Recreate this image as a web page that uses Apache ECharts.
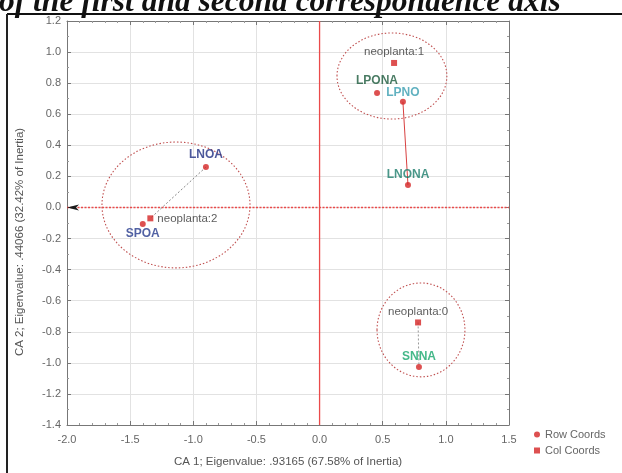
<!DOCTYPE html>
<html><head><meta charset="utf-8">
<script src="https://cdn.jsdelivr.net/npm/echarts@6/dist/echarts.min.js"></script>
<style>html,body{margin:0;padding:0;background:#fff}#c{width:622px;height:473px}</style>
</head><body><div id="c"></div>
<script>
// ---- data ----
const rowNames = ['LNOA', 'SPOA', 'LPONA', 'LPNO', 'LNONA', 'SNNA'];
const rowX = [-0.90, -1.40, 0.455, 0.66, 0.70, 0.787];
const rowY = [0.26, -0.107, 0.737, 0.68, 0.145, -1.026];
const colNames = ['neoplanta:0', 'neoplanta:1', 'neoplanta:2'];
const colX = [0.78, 0.59, -1.34];
const colY = [-0.74, 0.93, -0.07];
// grouping ellipses (centre and radii in data units)
const circleCX = [0.573, -1.137, 0.803];
const circleCY = [0.846, 0.016, -0.788];
const circleRX = [0.435, 0.586, 0.348];
const circleRY = [0.277, 0.405, 0.302];
// connectors between points
const links = [['LNOA', 'neoplanta:2'], ['LPNO', 'LNONA'], ['neoplanta:0', 'SNNA']];
const xTicks = [-2.0, -1.5, -1.0, -0.5, 0.0, 0.5, 1.0, 1.5];
const yTicks = [-1.4, -1.2, -1.0, -0.8, -0.6, -0.4, -0.2, 0.0, 0.2, 0.4, 0.6, 0.8, 1.0, 1.2];
const xTitle = 'CA 1; Eigenvalue: .93165 (67.58% of Inertia)';
const yTitle = 'CA 2; Eigenvalue: .44066 (32.42% of Inertia)';
const legendNames = ['Row Coords', 'Col Coords'];
const topCaption = 'of the first and second correspondence axis';

// ---- styles ----
const labelStyles = {
  'LNOA':   {color: '#1f2e82', position: 'top', distance: 3, bold: true},
  'SPOA':   {color: '#26398c', position: 'bottom', distance: 1, bold: true},
  'LPONA':  {color: '#1c5a3c', position: 'top', distance: 3, bold: true, offset: [-2, 0]},
  'LPNO':   {color: '#3a9db0', position: 'top', distance: 0, bold: true},
  'LNONA':  {color: '#1d7d6c', position: 'top', distance: 1, bold: true},
  'SNNA':   {color: '#17a66b', position: 'top', distance: 1, bold: true},
  'neoplanta:0': {color: '#333', position: 'top', distance: 2},
  'neoplanta:1': {color: '#333', position: 'top', distance: 2},
  'neoplanta:2': {color: '#333', position: 'right', distance: 4}
};
const linkStyles = [
  {color: '#888', dash: [2, 2]},
  {color: '#d84040', dash: null},
  {color: '#999', dash: [2, 2]}
];
const RED = '#d42424';
const ZERO_RED = '#ea4a4a';

function step(a) { return Math.round((a[1] - a[0]) * 1000) / 1000; }
function lbl(name) {
  const s = labelStyles[name];
  return {
    show: true, position: s.position, distance: s.distance, offset: s.offset || [0, 0],
    formatter: name, color: s.color, fontSize: s.bold ? 12 : 11.5,
    fontWeight: s.bold ? 'bold' : 'normal', fontFamily: 'Liberation Sans, Arial, sans-serif'
  };
}
const allPts = {};
rowNames.forEach((n, i) => allPts[n] = [rowX[i], rowY[i]]);
colNames.forEach((n, i) => allPts[n] = [colX[i], colY[i]]);

const xMin = xTicks[0], xMax = xTicks[xTicks.length - 1];
const yMin = yTicks[0], yMax = yTicks[yTicks.length - 1];

const axisFont = {fontSize: 11, color: '#666', fontFamily: 'Liberation Sans, Arial, sans-serif'};
function xAxisDef(pos, main) {
  return {
    type: 'value', position: pos, min: xMin, max: xMax, interval: step(xTicks),
    axisLine: {show: true, onZero: false, lineStyle: {color: '#777', width: 1}},
    axisTick: {show: true, inside: true, length: 4, lineStyle: {color: '#777'}},
    minorTick: {show: true, splitNumber: 5, length: 2, lineStyle: {color: '#999'}},
    splitLine: {show: main, lineStyle: {color: '#e2e2e2', width: 1}},
    axisLabel: main ? Object.assign({show: true, margin: 9, formatter: v => v.toFixed(1)}, axisFont) : {show: false},
    name: main ? xTitle : '', nameLocation: 'middle', nameGap: 31,
    nameTextStyle: {fontSize: 11.5, color: '#555', fontFamily: 'Liberation Sans, Arial, sans-serif'}
  };
}
function yAxisDef(pos, main) {
  return {
    type: 'value', position: pos, min: yMin, max: yMax, interval: step(yTicks),
    axisLine: {show: true, onZero: false, lineStyle: {color: '#777', width: 1}},
    axisTick: {show: true, inside: true, length: 4, lineStyle: {color: '#777'}},
    minorTick: {show: true, splitNumber: 2, length: 2, lineStyle: {color: '#999'}},
    splitLine: {show: main, lineStyle: {color: '#e2e2e2', width: 1}},
    axisLabel: main ? Object.assign({show: true, margin: 6, formatter: v => v.toFixed(1)}, axisFont) : {show: false},
    name: main ? yTitle : '', nameLocation: 'middle', nameGap: 41,
    nameTextStyle: {fontSize: 11.5, color: '#555', padding: [0, 38, 0, 0], fontFamily: 'Liberation Sans, Arial, sans-serif'}
  };
}

function segSeries(name, p1, p2, color, dash, z, width) {
  return {
    type: 'custom', name: name, silent: true, z: z,
    data: [[p1[0], p1[1], p2[0], p2[1]]],
    encode: {x: [0, 2], y: [1, 3]},
    renderItem: function (params, api) {
      const a = api.coord([api.value(0), api.value(1)]);
      const b = api.coord([api.value(2), api.value(3)]);
      return {
        type: 'line', shape: {x1: a[0], y1: a[1], x2: b[0], y2: b[1]},
        style: {stroke: color, lineWidth: width || 1, lineDash: dash || null, fill: null}
      };
    }
  };
}

const series = [];
// zero lines
series.push(segSeries('zeroH', [xMin, 0], [xMax, 0], ZERO_RED, [2, 1.5], 10, 1.4));
series.push(segSeries('zeroV', [0, yMin], [0, yMax], ZERO_RED, null, 10, 1.3));
// arrow head at the left end of the horizontal zero line
series.push({
  type: 'custom', name: 'arrow', silent: true, z: 11,
  data: [[xMin, 0]], encode: {x: 0, y: 1},
  renderItem: function (params, api) {
    const p = api.coord([api.value(0), api.value(1)]);
    return {
      type: 'polygon',
      shape: {points: [[p[0], p[1]], [p[0] + 12, p[1] - 3], [p[0] + 9, p[1]], [p[0] + 12, p[1] + 3]]},
      style: {fill: '#1a1a1a'}
    };
  }
});
// ellipses
series.push({
  type: 'custom', name: 'groups', silent: true, z: 3,
  data: circleCX.map((c, i) => [c, circleCY[i], circleRX[i], circleRY[i]]),
  encode: {x: 0, y: 1},
  renderItem: function (params, api) {
    const c = api.coord([api.value(0), api.value(1)]);
    const s = api.size([api.value(2), api.value(3)]);
    return {
      type: 'ellipse', shape: {cx: c[0], cy: c[1], rx: s[0], ry: s[1]},
      style: {fill: 'none', stroke: '#c05050', lineWidth: 1.1, lineDash: [1.5, 2]}
    };
  }
});
// connectors
links.forEach((l, i) => {
  series.push(segSeries('link' + i, allPts[l[0]], allPts[l[1]], linkStyles[i].color, linkStyles[i].dash, 12));
});
// points
series.push({
  type: 'scatter', name: legendNames[0], symbol: 'circle', symbolSize: 6, z: 16,
  itemStyle: {color: RED},
  data: rowNames.map((n, i) => ({value: [rowX[i], rowY[i]], label: lbl(n)})),
  labelLayout: {hideOverlap: false}
});
series.push({
  type: 'scatter', name: legendNames[1], symbol: 'rect', symbolSize: 6, z: 16,
  itemStyle: {color: RED},
  data: colNames.map((n, i) => ({value: [colX[i], colY[i]], label: lbl(n)}))
});

const chart = echarts.init(document.getElementById('c'), null, {renderer: 'canvas'});
chart.setOption({
  animation: false,
  backgroundColor: '#fff',
  grid: {left: 67, right: 113, top: 21, bottom: 48, show: false},
  xAxis: [xAxisDef('bottom', true), xAxisDef('top', false)],
  yAxis: [yAxisDef('left', true), yAxisDef('right', false)],
  legend: {
    data: legendNames.map((n, i) => ({name: n, icon: i === 0 ? 'circle' : 'rect'})),
    orient: 'vertical', left: 529, top: 424, itemWidth: 6, itemHeight: 6, itemGap: 5,
    textStyle: {fontSize: 11, color: '#666', fontFamily: 'Liberation Sans, Arial, sans-serif'},
    selectedMode: false
  },
  graphic: [
    {type: 'text', left: -1, top: -13, silent: true,
     style: {text: topCaption, font: 'italic bold 31.5px "Liberation Serif", serif', fill: '#111'}},
    {type: 'line', silent: true, shape: {x1: 7, y1: 14, x2: 622, y2: 14}, style: {stroke: '#111', lineWidth: 2}},
    {type: 'line', silent: true, shape: {x1: 7, y1: 14, x2: 7, y2: 473}, style: {stroke: '#222', lineWidth: 2}}
  ],
  series: series
});
</script>
</body></html>
